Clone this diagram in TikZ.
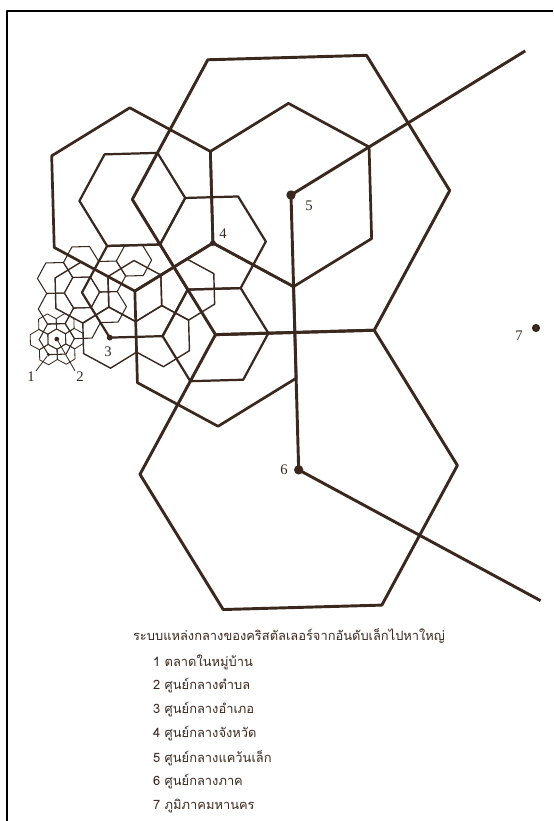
\documentclass[tikz,border=0pt]{standalone}
\usepackage{fontspec}
\newfontfamily\thaifont[Script=Thai]{Loma}
\newfontfamily\numfont{Liberation Serif}
\definecolor{ink}{RGB}{58,40,30}

% regular hexagon: style, centre, radius, angle of first corner
\newcommand{\hexa}[4]{%
  \draw[#1] (#2) ++(#4:#3) -- ++(#4+120:#3) -- ++(#4+180:#3)
    -- ++(#4+240:#3) -- ++(#4+300:#3) -- ++(#4:#3) -- cycle;}

\tikzset{
  lvsix/.style={line width=2.5pt},
  lvfive/.style={line width=2.3pt},
  lvfour/.style={line width=1.9pt},
  lvthree/.style={line width=1.2pt},
  lvtwo/.style={line width=0.9pt},
  lvone/.style={line width=0.7pt},
  place/.style={circle, fill=ink, inner sep=0pt, minimum size=#1},
  num/.style={font=\numfont\fontsize{12.5}{14}\selectfont, text=ink, inner sep=1pt},
  legend/.style={font=\thaifont\fontsize{11}{13}\selectfont, anchor=west, inner sep=0pt},
}

\begin{document}
\begin{tikzpicture}[x=0.03cm, y=-0.03cm, ink, line join=round]
\useasboundingbox (0,0) rectangle (553,821);
\draw[black, line width=1.2pt] (7,821) -- (7,11) -- (553,11);

\begin{scope}[shift={(291,195)}, rotate=1.6]
	\coordinate (c5) at (0,0);
	\coordinate (c6) at (0,275);
	\coordinate (cA) at (-158.77,0);
	\coordinate (cB) at (-79.39,137.5);
	\coordinate (c4) at (-79.39,45.83);
	\coordinate (cC) at (-158.77,91.67);
	\coordinate (c3) at (-185.23,137.5);
	\coordinate (c2) at (-238.15,137.5);
	\coordinate (c1) at (-246.97,152.78);
	\coordinate (endN) at (238.16,-137.5);
	\coordinate (endS) at (238.16,412.5);

	% metropolis edges
	\draw[lvsix] (endN) -- (c5) -- (c6) -- (endS);

	\hexa{lvsix}{c5}{158.77}{0}
	\hexa{lvsix}{c6}{158.77}{0}

	\foreach \c in {c5,cA,cB}
		{\hexa{lvfive}{\c}{91.67}{30}}

	\foreach \c in {cA,c4,cB,cC}
		{\hexa{lvfour}{\c}{52.92}{0}}

	\foreach \x/\y in {-211.69/91.67,-158.77/91.67,
		-105.85/91.67,-185.23/137.5,-132.31/137.5}
		{\hexa{lvthree}{\x,\y}{30.56}{30}}

	\foreach \x/\y in {-211.69/61.11,-158.77/61.11,
		-238.15/76.39,-185.23/76.39,-211.69/91.67,
		-238.15/106.94,-185.23/106.94,-211.69/122.22}
		{\hexa{lvtwo}{\x,\y}{17.64}{0}}

	% around the sub-district centre
	\hexa{lvtwo}{c2}{17.64}{0}
	\hexa{lvone}{c2}{10.19}{30}
	\foreach \a in {0,60,...,300}{
		\pgfmathsetmacro\px{-238.15+17.64*cos(\a)}
		\pgfmathsetmacro\py{137.5+17.64*sin(\a)}
		\hexa{lvone}{\px,\py}{10.19}{30}
	}

	\node[place=8pt] (n5) at (c5) {};
	\node[place=8pt] (n6) at (c6) {};
	\node[place=5pt] (n4) at (c4) {};
	\node[place=5pt] (n3) at (c3) {};
	\node[place=4pt] (n2) at (c2) {};
	\node[place=3pt] (n1) at (c1) {};
\end{scope}

\node[place=7pt] (n7) at (536,328) {};
\node[num] (l7) at (519,336) {7};
\node[num] (l5) at (309,206) {5};
\node[num] (l4) at (223,234) {4};
\node[num] (l6) at (284,470) {6};
\node[num] (l3) at (108,352) {3};
\node[num] (l1) at (31,377) {1};
\node[num] (l2) at (80,377) {2};
\draw[lvone] (l1.north east) -- (n1);
\draw[lvone] (l2.north west) -- (n2);

\node[font=\thaifont\fontsize{11}{13}\selectfont] (title) at (289,636)
	{ระบบแหล่งกลางของคริสตัลเลอร์จากอันดับเล็กไปหาใหญ่};
\node[legend] (g1) at (153,662) {1 ตลาดในหมู่บ้าน};
\node[legend] (g2) at (153,686) {2 ศูนย์กลางตำบล};
\node[legend] (g3) at (153,710) {3 ศูนย์กลางอำเภอ};
\node[legend] (g4) at (153,734) {4 ศูนย์กลางจังหวัด};
\node[legend] (g5) at (153,758) {5 ศูนย์กลางแคว้นเล็ก};
\node[legend] (g6) at (153,782) {6 ศูนย์กลางภาค};
\node[legend] (g7) at (153,806) {7 ภูมิภาคมหานคร};
\end{tikzpicture}
\end{document}
